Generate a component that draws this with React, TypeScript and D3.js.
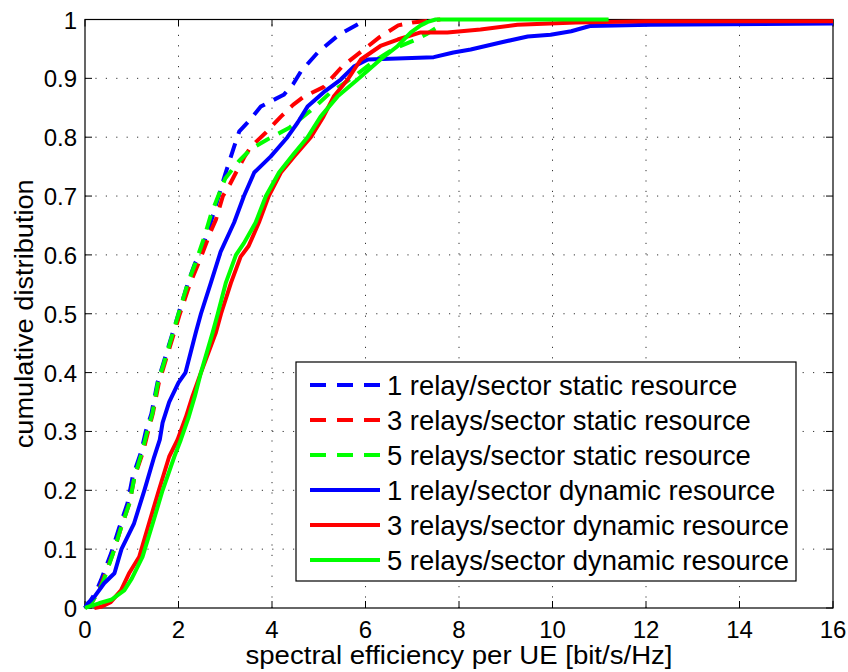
import React from 'react';
import * as d3 from 'd3';

// ---------- data ----------
const xTicks = [0, 2, 4, 6, 8, 10, 12, 14, 16];
const yTicks = [0, 0.1, 0.2, 0.3, 0.4, 0.5, 0.6, 0.7, 0.8, 0.9, 1];
const xLabel = 'spectral efficiency per UE [bit/s/Hz]';
const yLabel = 'cumulative distribution';

const seriesNames = [
  '1 relay/sector static resource',
  '3 relays/sector static resource',
  '5 relays/sector static resource',
  '1 relay/sector dynamic resource',
  '3 relays/sector dynamic resource',
  '5 relays/sector dynamic resource',
];
const seriesColors = ['#0000ff', '#ff0000', '#00ff00', '#0000ff', '#ff0000', '#00ff00'];
const seriesDashed = [true, true, true, false, false, false];

const static1: [number, number][] = [
  [0, 0], [0.1, 0.01], [0.25, 0.03], [0.34, 0.047], [0.45, 0.07], [0.56, 0.093], [0.73, 0.136],
  [0.91, 0.178], [1.02, 0.223], [1.2, 0.265], [1.3, 0.3], [1.42, 0.33], [1.55, 0.383], [1.77, 0.44],
  [2.0, 0.5], [2.2, 0.552], [2.35, 0.585], [2.48, 0.605], [2.69, 0.655], [2.86, 0.7], [3.01, 0.74],
  [3.19, 0.784], [3.3, 0.81], [3.48, 0.825], [3.76, 0.852], [3.95, 0.86], [4.25, 0.872], [4.45, 0.89],
  [4.62, 0.912], [4.98, 0.944], [5.43, 0.974], [5.86, 0.993], [6.0, 1],
];
const static3: [number, number][] = [
  [0, 0], [0.15, 0.01], [0.3, 0.03], [0.38, 0.047], [0.6, 0.093], [0.77, 0.136], [0.95, 0.178],
  [1.06, 0.223], [1.24, 0.265], [1.35, 0.3], [1.45, 0.33], [1.58, 0.383], [1.8, 0.44], [2.03, 0.5],
  [2.25, 0.552], [2.45, 0.59], [2.69, 0.64], [2.8, 0.66], [2.95, 0.7], [3.1, 0.72], [3.23, 0.74],
  [3.4, 0.765], [3.55, 0.784], [3.87, 0.808], [4.19, 0.835], [4.45, 0.855], [4.68, 0.869],
  [5.1, 0.885], [5.5, 0.92], [5.9, 0.945], [6.3, 0.97], [6.7, 0.99], [7.0, 0.995], [7.6, 1],
];
const static5: [number, number][] = [
  [0, 0], [0.15, 0.01], [0.3, 0.03], [0.4, 0.047], [0.6, 0.093], [0.77, 0.136], [0.95, 0.178],
  [1.06, 0.223], [1.22, 0.265], [1.33, 0.3], [1.44, 0.33], [1.56, 0.383], [1.78, 0.44], [2.0, 0.5],
  [2.2, 0.552], [2.38, 0.59], [2.55, 0.63], [2.7, 0.67], [2.85, 0.7], [3.0, 0.73], [3.3, 0.76],
  [3.55, 0.78], [3.9, 0.796], [4.37, 0.816], [4.9, 0.85], [5.25, 0.876], [5.7, 0.9], [6.2, 0.93],
  [6.6, 0.95], [7.05, 0.965], [7.3, 0.975], [7.5, 0.985], [7.6, 1],
];
const dynamic1: [number, number][] = [
  [0, 0], [0.06, 0.008], [0.2, 0.019], [0.41, 0.042], [0.63, 0.059], [0.78, 0.1], [1.05, 0.144],
  [1.27, 0.2], [1.48, 0.257], [1.6, 0.286], [1.66, 0.315], [1.8, 0.35], [2.0, 0.383], [2.15, 0.4],
  [2.37, 0.468], [2.48, 0.5], [2.69, 0.552], [2.9, 0.605], [3.19, 0.655], [3.4, 0.7], [3.62, 0.74],
  [3.97, 0.767], [4.33, 0.8], [4.55, 0.825], [4.76, 0.852], [5.1, 0.876], [5.47, 0.898],
  [5.75, 0.92], [6.05, 0.932], [7.46, 0.936], [7.88, 0.944], [8.25, 0.949], [8.89, 0.961],
  [9.47, 0.971], [9.96, 0.974], [10.4, 0.98], [10.8, 0.989], [12.1, 0.991], [16, 0.993],
];
const dynamic3: [number, number][] = [
  [0.2, 0], [0.34, 0.002], [0.55, 0.01], [0.77, 0.03], [0.95, 0.06], [1.16, 0.087], [1.37, 0.144],
  [1.58, 0.2], [1.8, 0.257], [1.98, 0.286], [2.16, 0.325], [2.3, 0.36], [2.48, 0.4], [2.8, 0.468],
  [2.91, 0.5], [3.12, 0.552], [3.33, 0.597], [3.5, 0.615], [3.72, 0.655], [3.93, 0.7], [4.19, 0.74],
  [4.47, 0.767], [4.83, 0.8], [5.1, 0.835], [5.32, 0.869], [5.62, 0.898], [5.9, 0.932],
  [6.32, 0.955], [6.69, 0.966], [7.18, 0.978], [7.75, 0.978], [8.46, 0.983], [9.25, 0.991],
  [10.5, 0.995], [12, 0.997], [16, 0.997],
];
const dynamic5: [number, number][] = [
  [0, 0], [0.06, 0.002], [0.3, 0.008], [0.56, 0.014], [0.84, 0.03], [1.0, 0.05], [1.23, 0.087],
  [1.45, 0.144], [1.66, 0.2], [1.91, 0.257], [2.05, 0.286], [2.22, 0.325], [2.35, 0.36],
  [2.48, 0.4], [2.73, 0.468], [2.84, 0.5], [3.01, 0.552], [3.23, 0.6], [3.4, 0.62], [3.65, 0.655],
  [3.87, 0.7], [4.15, 0.74], [4.45, 0.77], [4.76, 0.8], [5.04, 0.835], [5.4, 0.869], [5.83, 0.898],
  [6.32, 0.932], [6.69, 0.955], [6.97, 0.978], [7.18, 0.99], [7.33, 0.996], [7.5, 1], [11.2, 1],
];
const seriesData = [static1, static3, static5, dynamic1, dynamic3, dynamic5];

// ---------- layout ----------
const W = 848;
const H = 672;
const L = 85;
const R = 833;
const T = 19.5;
const B = 608;
const FONT = '"Liberation Sans", Arial, Helvetica, sans-serif';

export default function App() {
  const x = d3.scaleLinear().domain([0, 16]).range([L, R]);
  const y = d3.scaleLinear().domain([0, 1]).range([B, T]);
  const line = d3
    .line<[number, number]>()
    .x((d) => x(d[0]))
    .y((d) => y(d[1]));

  const tickLen = 7;
  const legX = 296;
  const legY = 362;
  const legW = 500;
  const legH = 219;
  const rowH = 35;

  return (
    <svg
      width={W}
      height={H}
      style={{ position: 'absolute', left: 0, top: 0, background: '#fff' }}
      fontFamily={FONT}
    >
      <rect x={0} y={0} width={W} height={H} fill="#fff" />
      {/* grid */}
      {xTicks.slice(1, -1).map((t) => (
        <line key={'gx' + t} x1={x(t)} x2={x(t)} y1={B} y2={T} stroke="#333" strokeWidth={1} strokeDasharray="1.2,9.2" />
      ))}
      {yTicks.slice(1, -1).map((t) => (
        <line key={'gy' + t} x1={L} x2={R} y1={y(t)} y2={y(t)} stroke="#333" strokeWidth={1} strokeDasharray="1.2,9.2" />
      ))}
      {/* ticks */}
      {xTicks.map((t) => (
        <g key={'tx' + t}>
          <line x1={x(t)} x2={x(t)} y1={B} y2={B - tickLen} stroke="#000" />
          <line x1={x(t)} x2={x(t)} y1={T} y2={T + tickLen} stroke="#000" />
          <text x={x(t)} y={638} fontSize={24} textAnchor="middle" fill="#000">
            {String(t)}
          </text>
        </g>
      ))}
      {yTicks.map((t) => (
        <g key={'ty' + t}>
          <line x1={L} x2={L + tickLen} y1={y(t)} y2={y(t)} stroke="#000" />
          <line x1={R} x2={R - tickLen} y1={y(t)} y2={y(t)} stroke="#000" />
          <text x={77} y={y(t) + 9} fontSize={24} textAnchor="end" fill="#000">
            {d3.format('~g')(t)}
          </text>
        </g>
      ))}
      {/* box */}
      <rect x={L} y={T} width={R - L} height={B - T} fill="none" stroke="#000" strokeWidth={1.2} />
      {/* series */}
      {seriesData.map((d, i) => (
        <path
          key={'s' + i}
          d={line(d) || ''}
          fill="none"
          stroke={seriesColors[i]}
          strokeWidth={4}
          strokeLinejoin="round"
          strokeDasharray={seriesDashed[i] ? '15,10' : undefined}
        />
      ))}
      {/* axis labels */}
      <text x={(L + R) / 2} y={664} fontSize={25} textAnchor="middle" textLength={427} lengthAdjust="spacingAndGlyphs">
        {xLabel}
      </text>
      <text
        transform={`translate(33,${(T + B) / 2}) rotate(-90)`}
        fontSize={25}
        textAnchor="middle"
        textLength={269}
        lengthAdjust="spacingAndGlyphs"
      >
        {yLabel}
      </text>
      {/* legend */}
      <rect x={legX} y={legY} width={legW} height={legH} fill="#fff" stroke="#000" strokeWidth={1.2} />
      {seriesNames.map((n, i) => {
        const cy = legY + 23 + i * rowH;
        return (
          <g key={'l' + i}>
            <line
              x1={legX + 14}
              x2={legX + 84}
              y1={cy}
              y2={cy}
              stroke={seriesColors[i]}
              strokeWidth={4}
              strokeDasharray={seriesDashed[i] ? '16,11' : undefined}
            />
            <text x={legX + 91} y={cy + 10} fontSize={27.4} fill="#000">
              {n}
            </text>
          </g>
        );
      })}
    </svg>
  );
}
